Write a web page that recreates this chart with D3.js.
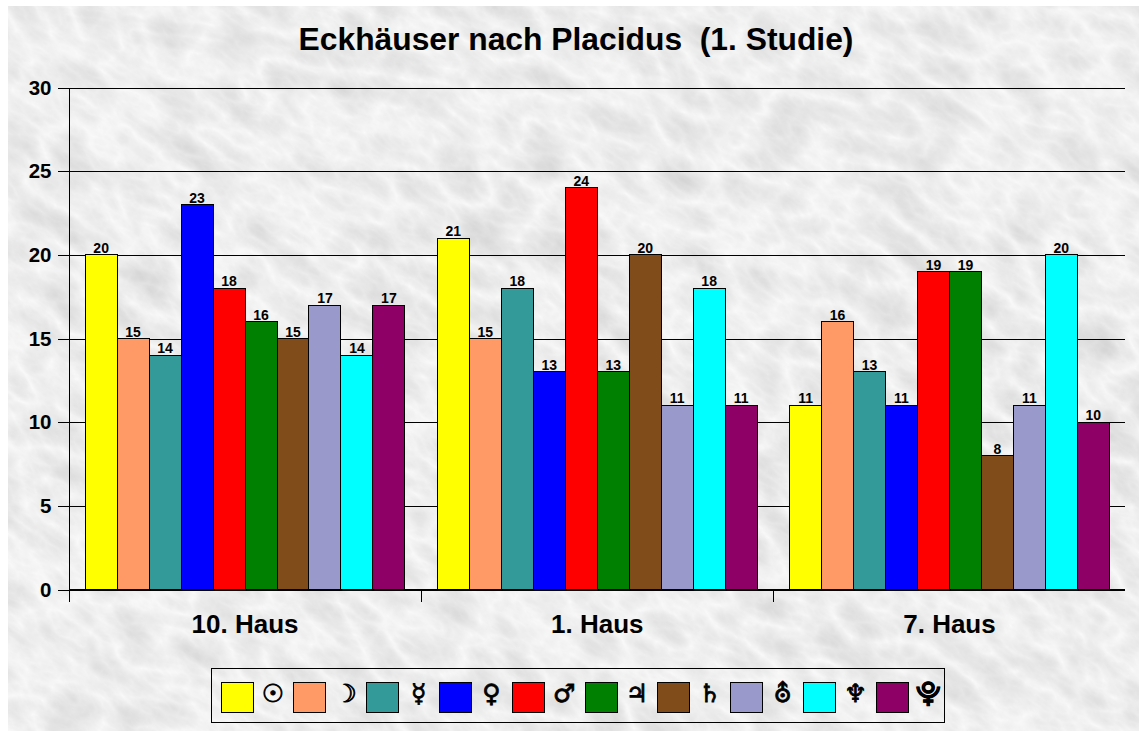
<!DOCTYPE html>
<html>
<head>
<meta charset='utf-8' />
<title>Eckhäuser nach Placidus</title>
<style type="text/css">
	html, body { margin: 0; padding: 0; background: #fff; }
	svg { display: block; }
	text { font-family: "Liberation Sans", Arial, sans-serif; font-weight: bold; fill: #000; }
	.title { font-size: 31.8px; white-space: pre; }
	.y.axis text { font-size: 20.5px; }
	.x.axis text { font-size: 26px; }
	.axis path, .axis line, .grid line { stroke: #000; stroke-width: 1px; shape-rendering: crispEdges; }
	.grid path { display: none; }
	.bar, .swatch { stroke: #000; stroke-width: 1px; shape-rendering: crispEdges; }
	.value { font-size: 14px; }
	.symbol { font-family: "DejaVu Sans", sans-serif; font-size: 25px; stroke: #000; stroke-width: 0.8px; }
	.legend-box { fill: none; stroke: #000; stroke-width: 1px; shape-rendering: crispEdges; }
</style>
<script src="https://d3js.org/d3.v7.min.js"></script>
</head>
<body>
<div id="chart"></div>
<script type="text/javascript">
	var chartTitle = "Eckhäuser nach Placidus  (1. Studie)";
	var houses = ["10. Haus", "1. Haus", "7. Haus"];
	var planets = ["\u2609", "\u263D", "\u263F", "\u2640", "\u2642", "\u2643", "\u2644", "\u26E2", "\u2646", "\u2BD3"];
	var colors = ["#ffff00", "#ff9966", "#339999", "#0000ff", "#ff0000", "#008000", "#804c19", "#9999cc", "#00ffff", "#8e0066"];
	var house10 = [20, 15, 14, 23, 18, 16, 15, 17, 14, 17];
	var house1 = [21, 15, 18, 13, 24, 13, 20, 11, 18, 11];
	var house7 = [11, 16, 13, 11, 19, 19, 8, 11, 20, 10];
	var yTicks = [0, 5, 10, 15, 20, 25, 30];

	var series = [house10, house1, house7];
	var width = 1139, height = 731;
	var plot = {left: 69.5, right: 1125, top: 87.5, bottom: 589.5};

	var svg = d3.select("#chart").append("svg")
		.attr("width", width)
		.attr("height", height);

	var defs = svg.append("defs");
	defs.append("clipPath").attr("id", "paper")
		.append("rect")
		.attr("x", 8).attr("y", 6)
		.attr("width", width - 8).attr("height", height - 6);

	// marble paper background, veins run diagonally
	var filter = defs.append("filter")
		.attr("id", "marble")
		.attr("color-interpolation-filters", "sRGB")
		.attr("x", 0).attr("y", 0).attr("width", "100%").attr("height", "100%");
	filter.append("feTurbulence")
		.attr("type", "turbulence")
		.attr("baseFrequency", "0.016 0.03")
		.attr("numOctaves", 5)
		.attr("seed", 7);
	filter.append("feColorMatrix")
		.attr("type", "matrix")
		.attr("values", "0 0 0 -0.15 0.98  0 0 0 -0.15 0.98  0 0 0 -0.15 0.98  0 0 0 0 1");

	svg.append("g")
		.attr("clip-path", "url(#paper)")
	  .append("rect")
		.attr("x", -600).attr("y", -1100)
		.attr("width", 2400).attr("height", 2400)
		.attr("transform", "rotate(35)")
		.attr("filter", "url(#marble)");

	svg.append("text")
		.attr("class", "title")
		.attr("x", 576)
		.attr("y", 50)
		.attr("text-anchor", "middle")
		.text(chartTitle);

	var y = d3.scaleLinear().domain([0, 30]).range([plot.bottom, plot.top]);
	var x0 = d3.scaleBand().domain(houses).range([plot.left, plot.right])
		.paddingInner(0.0923).paddingOuter(0.0445);
	var x1 = d3.scaleBand().domain(d3.range(planets.length)).range([0, x0.bandwidth()]);

	// gridlines
	svg.append("g")
		.attr("class", "grid")
		.attr("transform", "translate(" + plot.left + ",0)")
		.call(d3.axisRight(y).tickValues(yTicks).tickSize(plot.right - plot.left).tickFormat(""));

	// bars
	var groups = svg.selectAll(".group")
		.data(series)
	  .enter().append("g")
		.attr("class", "group")
		.attr("transform", function(d, i) { return "translate(" + x0(houses[i]) + ",0)"; });

	groups.selectAll(".bar")
		.data(function(d) { return d; })
	  .enter().append("rect")
		.attr("class", "bar")
		.attr("x", function(d, i) { return x1(i); })
		.attr("y", function(d) { return y(d); })
		.attr("width", x1.bandwidth())
		.attr("height", function(d) { return y(0) - y(d); })
		.attr("fill", function(d, i) { return colors[i]; });

	groups.selectAll(".value")
		.data(function(d) { return d; })
	  .enter().append("text")
		.attr("class", "value")
		.attr("x", function(d, i) { return x1(i) + x1.bandwidth() / 2; })
		.attr("y", function(d) { return y(d) - 2; })
		.attr("text-anchor", "middle")
		.text(function(d) { return d; });

	// axes
	var yAxis = svg.append("g")
		.attr("class", "y axis")
		.attr("transform", "translate(" + plot.left + ",0)")
		.call(d3.axisLeft(y).tickValues(yTicks).tickSize(12).tickPadding(6));
	yAxis.select(".domain").attr("d", "M0," + y(30) + "V" + (y(0) + 12));

	var xAxis = svg.append("g")
		.attr("class", "x axis")
		.attr("transform", "translate(0," + plot.bottom + ")")
		.call(d3.axisBottom(x0).tickSize(0).tickPadding(25));
	xAxis.select(".domain").attr("d", "M" + plot.left + ",0H" + plot.right);

	// separators between the houses
	svg.selectAll(".sep")
		.data(houses.slice(1))
	  .enter().append("line")
		.attr("class", "sep")
		.attr("x1", function(d) { return x0(d) - x0.step() * x0.paddingInner() / 2; })
		.attr("x2", function(d) { return x0(d) - x0.step() * x0.paddingInner() / 2; })
		.attr("y1", plot.bottom)
		.attr("y2", plot.bottom + 12)
		.attr("stroke", "#000")
		.attr("shape-rendering", "crispEdges");

	// legend
	var legendX = d3.scaleBand().domain(d3.range(planets.length)).range([221, 949]);
	var legend = svg.append("g").attr("class", "legend");

	legend.append("rect")
		.attr("class", "legend-box")
		.attr("x", 211).attr("y", 668)
		.attr("width", 733).attr("height", 54);

	legend.selectAll(".swatch")
		.data(colors)
	  .enter().append("rect")
		.attr("class", "swatch")
		.attr("x", function(d, i) { return legendX(i); })
		.attr("y", 682)
		.attr("width", 32)
		.attr("height", 30)
		.attr("fill", function(d) { return d; });

	legend.selectAll(".symbol")
		.data(planets)
	  .enter().append("text")
		.attr("class", "symbol")
		.attr("x", function(d, i) { return legendX(i) + 52; })
		.attr("y", 702)
		.attr("text-anchor", "middle")
		.text(function(d) { return d; });
</script>
</body>
</html>
